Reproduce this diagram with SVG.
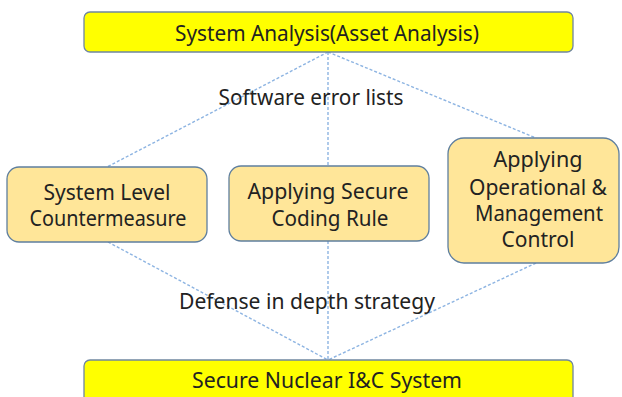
<svg xmlns="http://www.w3.org/2000/svg" width="622" height="397" viewBox="0 0 622 397">
<style>
.hdr{fill:#FFFF00;stroke:#6F86A0;stroke-width:1.3}
.box{fill:#FFE699;stroke:#5F7F9F;stroke-width:1.3}
.t{font-family:"Noto Sans","Liberation Sans",sans-serif;font-size:21.5px;fill:#222;text-anchor:middle}
.c{stroke:#8DB4E2;stroke-width:1.4;stroke-dasharray:3 2;fill:none}
</style>
<rect width="622" height="397" fill="#fff"/>
<g id="connectors">
<line class="c" x1="328" y1="52" x2="107" y2="167"/>
<line class="c" x1="328" y1="52" x2="328" y2="166"/>
<line class="c" x1="328" y1="52" x2="536" y2="138"/>
<line class="c" x1="108" y1="242" x2="328" y2="360"/>
<line class="c" x1="328" y1="241" x2="328" y2="360"/>
<line class="c" x1="536" y1="263" x2="328" y2="360"/>
<text class="t" x="311" y="105" textLength="185" lengthAdjust="spacingAndGlyphs">Software error lists</text>
<text class="t" x="307" y="309" textLength="256" lengthAdjust="spacingAndGlyphs">Defense in depth strategy</text>
</g>
<g id="top">
<rect class="hdr" x="84" y="12" width="489" height="40" rx="6"/>
<text class="t" x="327" y="41" textLength="304" lengthAdjust="spacingAndGlyphs">System Analysis(Asset Analysis)</text>
</g>
<g id="left">
<rect class="box" x="7" y="167" width="200" height="75" rx="12"/>
<text class="t" x="107" y="200" textLength="127" lengthAdjust="spacingAndGlyphs">System Level</text>
<text class="t" x="108" y="226" textLength="157" lengthAdjust="spacingAndGlyphs">Countermeasure</text>
</g>
<g id="middle">
<rect class="box" x="229" y="166" width="200" height="75" rx="12"/>
<text class="t" x="328" y="199" textLength="161" lengthAdjust="spacingAndGlyphs">Applying Secure</text>
<text class="t" x="330" y="226" textLength="117" lengthAdjust="spacingAndGlyphs">Coding Rule</text>
</g>
<g id="right">
<rect class="box" x="448" y="138" width="171" height="125" rx="16"/>
<text class="t" x="538" y="167" textLength="89" lengthAdjust="spacingAndGlyphs">Applying</text>
<text class="t" x="538" y="195" textLength="138" lengthAdjust="spacingAndGlyphs">Operational &amp;</text>
<text class="t" x="539" y="221" textLength="128" lengthAdjust="spacingAndGlyphs">Management</text>
<text class="t" x="538" y="247" textLength="73" lengthAdjust="spacingAndGlyphs">Control</text>
</g>
<g id="bottom">
<rect class="hdr" x="84" y="360" width="489" height="50" rx="6"/>
<text class="t" x="327" y="388" textLength="270" lengthAdjust="spacingAndGlyphs">Secure Nuclear I&amp;C System</text>
</g>
</svg>
